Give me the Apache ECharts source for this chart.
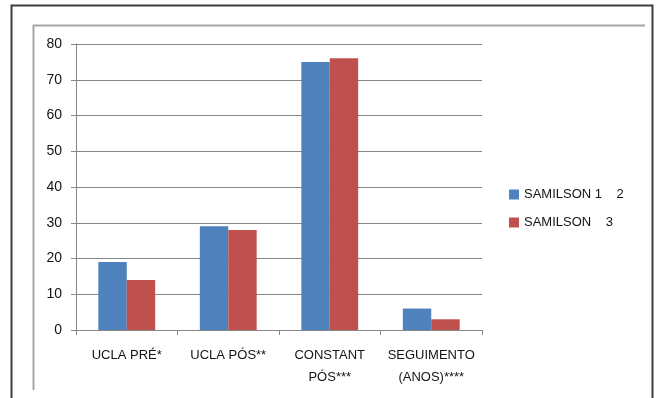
<!DOCTYPE html>
<html>
<head>
<meta charset="utf-8">
<script src="https://cdn.jsdelivr.net/npm/echarts@6/dist/echarts.min.js"></script>
<style>
  html, body { margin: 0; padding: 0; background: #fff; }
  #chart { width: 656px; height: 398px; }
</style>
</head>
<body>
<div id="chart"></div>
<script>
// Categories and series values
const categories = ['UCLA PRÉ*', 'UCLA PÓS**', 'CONSTANT\nPÓS***', 'SEGUIMENTO\n(ANOS)****'];
const seriesNames = ['SAMILSON 1    2', 'SAMILSON    3'];
const samilson12 = [19, 29, 75, 6];
const samilson3 = [14, 28, 76, 3];
const yTicks = { min: 0, max: 80, interval: 10 };

const FONT = '"Liberation Sans", Arial, sans-serif';
const AXIS_GRAY = '#868686';
const TEXT = '#141414';

const chart = echarts.init(document.getElementById('chart'), null, { renderer: 'canvas' });

chart.setOption({
  backgroundColor: '#ffffff',
  animation: false,
  graphic: [
    // outer dark frame
    {
      type: 'polyline',
      shape: { points: [[11.5, 420], [11.5, 5.5], [652.5, 5.5], [652.5, 420]] },
      style: { stroke: '#3c3c3c', lineWidth: 2, fill: null }
    },
    // inner light frame
    {
      type: 'polyline',
      shape: { points: [[33.5, 390], [33.5, 25.5], [645, 25.5]] },
      style: { stroke: '#a6a6a6', lineWidth: 2, fill: null }
    }
  ],
  grid: { left: 76, right: 174, top: 44, bottom: 68 },
  legend: {
    orient: 'vertical',
    left: 509,
    top: 188,
    padding: 0,
    itemWidth: 10,
    itemHeight: 10,
    itemGap: 15,
    icon: 'rect',
    textStyle: { fontFamily: FONT, fontSize: 13, color: TEXT },
    data: seriesNames
  },
  xAxis: {
    type: 'category',
    data: categories,
    axisLine: { lineStyle: { color: AXIS_GRAY, width: 1 } },
    axisTick: { show: true, length: 5, alignWithLabel: false, lineStyle: { color: AXIS_GRAY } },
    axisLabel: {
      interval: 0,
      margin: 14,
      fontFamily: FONT,
      fontSize: 13,
      lineHeight: 22,
      color: TEXT
    },
    splitLine: { show: false }
  },
  yAxis: {
    type: 'value',
    min: yTicks.min,
    max: yTicks.max,
    interval: yTicks.interval,
    axisLine: { show: true, lineStyle: { color: AXIS_GRAY, width: 1 } },
    axisTick: { show: true, length: 5, lineStyle: { color: AXIS_GRAY } },
    axisLabel: { margin: 14, fontFamily: FONT, fontSize: 14, color: TEXT },
    splitLine: { lineStyle: { color: AXIS_GRAY, width: 1 } }
  },
  series: [
    {
      name: seriesNames[0],
      type: 'bar',
      data: samilson12,
      barGap: '0%',
      barCategoryGap: '44%',
      itemStyle: { color: '#4F81BD' }
    },
    {
      name: seriesNames[1],
      type: 'bar',
      data: samilson3,
      barGap: '0%',
      barCategoryGap: '44%',
      itemStyle: { color: '#C0504D' }
    }
  ]
});
</script>
</body>
</html>
